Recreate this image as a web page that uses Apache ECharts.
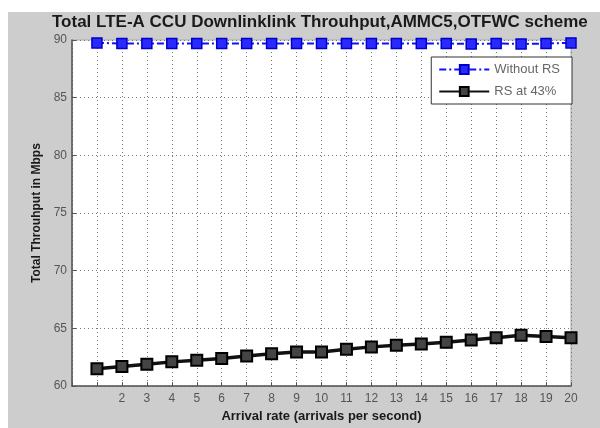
<!DOCTYPE html>
<html><head><meta charset="utf-8">
<script src="https://cdn.jsdelivr.net/npm/echarts@6/dist/echarts.min.js"></script>
<style>html,body{margin:0;padding:0;background:#fff}#c{width:600px;height:428px}</style>
</head><body><div id="c"></div>
<script>
const categories = [1,2,3,4,5,6,7,8,9,10,11,12,13,14,15,16,17,18,19,20];
const withoutRS = [89.75,89.7,89.7,89.7,89.7,89.7,89.7,89.7,89.7,89.7,89.7,89.7,89.7,89.7,89.7,89.65,89.7,89.65,89.7,89.75];
const rs43 = [61.5,61.7,61.9,62.1,62.25,62.4,62.6,62.8,62.95,62.95,63.2,63.4,63.55,63.65,63.8,64.0,64.2,64.4,64.3,64.2];
const xTickLabels = ['','','2','3','4','5','6','7','8','9','10','11','12','13','14','15','16','17','18','19','20'];
const yTicks = [60,65,70,75,80,85,90];

const chart = echarts.init(document.getElementById('c'), null, {renderer:'canvas'});
const font = 'Liberation Sans, Arial, sans-serif';
chart.setOption({
  backgroundColor:'#ffffff',
  animation:false,
  graphic:[{type:'rect',z:-10,shape:{x:8,y:12,width:600,height:420},style:{fill:'#cdcdcd'}}],
  title:{text:'Total LTE-A CCU Downlinklink Throuhput,AMMC5,OTFWC scheme',left:47,top:9,
    textStyle:{fontFamily:font,fontSize:17,fontWeight:'bold',color:'#1a1a1a'}},
  grid:{left:72,right:29,top:40,bottom:41,show:true,backgroundColor:'#ffffff',borderWidth:1,borderColor:'#aaaaaa'},
  legend:{right:28,top:57,orient:'vertical',backgroundColor:'#ffffff',borderColor:'#333',borderWidth:1,
    padding:[6,12,6,7],itemGap:9,itemWidth:50,itemHeight:11,
    textStyle:{fontFamily:font,fontSize:13,color:'#666'},
    data:['Without RS','RS at 43%']},
  xAxis:{type:'value',min:0,max:20,interval:1,
    name:'Arrival rate (arrivals per second)',nameLocation:'middle',nameGap:20,
    nameTextStyle:{fontFamily:font,fontSize:13,fontWeight:'bold',color:'#1a1a1a'},
    axisLine:{show:true,onZero:false,lineStyle:{color:'#555',width:1.5}},
    axisTick:{show:true,inside:true,length:4,lineStyle:{color:'#555'}},
    axisLabel:{fontFamily:font,fontSize:12,color:'#555',margin:7,formatter:v=>xTickLabels[v]},
    splitLine:{show:true,lineStyle:{color:'#777',type:[1,3],width:1}}},
  yAxis:{type:'value',min:60,max:90,interval:5,
    name:'Total Throuhput in Mbps',nameLocation:'middle',nameGap:29,
    nameTextStyle:{fontFamily:font,fontSize:12,fontWeight:'bold',color:'#1a1a1a'},
    axisLine:{show:true,lineStyle:{color:'#555',width:1.5}},
    axisTick:{show:true,inside:true,length:4,lineStyle:{color:'#555'}},
    axisLabel:{fontFamily:font,fontSize:12,color:'#555',margin:5,formatter:v=>yTicks.includes(v)?String(v):''},
    splitLine:{show:true,lineStyle:{color:'#777',type:[1,3],width:1}}},
  series:[
    {name:'Without RS',type:'line',data:categories.map((c,i)=>[c,withoutRS[i]]),
      symbol:'rect',symbolSize:10,
      lineStyle:{color:'#1010ff',width:2,type:[7,3,2,3]},
      itemStyle:{color:'#2a2aff',borderColor:'#0000c8',borderWidth:1.5}},
    {name:'RS at 43%',type:'line',data:categories.map((c,i)=>[c,rs43[i]]),
      symbol:'rect',symbolSize:11,
      lineStyle:{color:'#111',width:3.5},
      itemStyle:{color:'#444',borderColor:'#000',borderWidth:2}}
  ]
});
</script></body></html>
